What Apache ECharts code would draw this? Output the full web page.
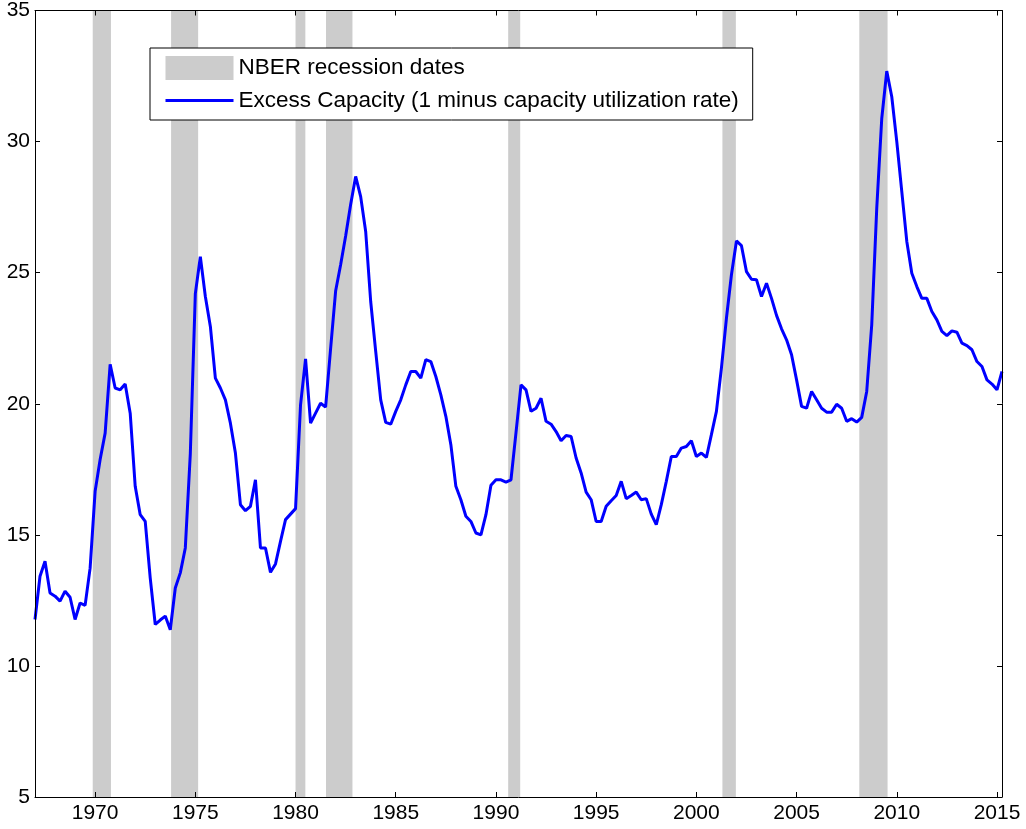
<!DOCTYPE html>
<html>
<head>
<meta charset="utf-8">
<title>Excess Capacity</title>
<script src="https://cdn.jsdelivr.net/npm/echarts@6/dist/echarts.min.js"></script>
<style>
  html, body { margin: 0; padding: 0; background: #fff; }
  #chart { width: 1026px; height: 829px; }
</style>
</head>
<body>
<div id="chart"></div>
<script>
// quarterly series, starting 1967Q1
const firstQuarter = 1967
const excessCapacity = [
  11.77, 13.42, 13.99, 12.78, 12.66, 12.47, 12.85, 12.62, 11.77, 12.4, 12.31, 13.73,
  16.66, 17.87, 18.88, 21.5, 20.6, 20.53, 20.75, 19.64, 16.85, 15.77, 15.51, 13.35,
  11.58, 11.75, 11.9, 11.38, 12.97, 13.55, 14.5, 18.1, 24.2, 25.61, 24.09, 22.95,
  20.98, 20.6, 20.15, 19.26, 18.12, 16.15, 15.92, 16.09, 17.1, 14.5, 14.5, 13.57,
  13.89, 14.75, 15.58, 15.79, 16.0, 19.96, 21.71, 19.26, 19.64, 20.02, 19.87, 22.1,
  24.3, 25.3, 26.4, 27.6, 28.67, 27.9, 26.57, 23.9, 22.0, 20.15, 19.29, 19.22,
  19.71, 20.15, 20.72, 21.23, 21.23, 20.98, 21.68, 21.61, 21.04, 20.34, 19.52, 18.44,
  16.85, 16.34, 15.71, 15.51, 15.07, 15.0, 15.77, 16.89, 17.1, 17.1, 17.01, 17.1,
  18.9, 20.72, 20.53, 19.71, 19.83, 20.21, 19.33, 19.22, 18.94, 18.59, 18.79, 18.75,
  17.93, 17.36, 16.63, 16.34, 15.51, 15.51, 16.09, 16.3, 16.5, 17.04, 16.38, 16.5,
  16.63, 16.34, 16.38, 15.79, 15.39, 16.15, 17.04, 17.99, 17.99, 18.31, 18.37, 18.59,
  17.99, 18.12, 17.95, 18.82, 19.71, 21.36, 23.26, 24.92, 26.21, 26.03, 25.04, 24.75,
  24.73, 24.09, 24.6, 24.02, 23.37, 22.86, 22.44, 21.87, 20.91, 19.9, 19.83, 20.47,
  20.15, 19.83, 19.68, 19.68, 19.98, 19.83, 19.33, 19.43, 19.3, 19.48, 20.47, 23.01,
  27.45, 30.88, 32.69, 31.71, 30.0, 28.09, 26.19, 24.98, 24.47, 24.02, 24.02, 23.52,
  23.2, 22.76, 22.6, 22.78, 22.73, 22.31, 22.22, 22.06, 21.61, 21.42, 20.91, 20.75,
  20.53, 21.23
]
// NBER recessions (fractional years)
const recessionStart = [1969.88, 1973.79, 1980.0, 1981.52, 1990.61, 2001.3, 2008.13]
const recessionEnd = [1970.79, 1975.14, 1980.49, 1982.84, 1991.21, 2001.97, 2009.54]
const yearTicks = [1970, 1975, 1980, 1985, 1990, 1995, 2000, 2005, 2010, 2015]

const font = "'Liberation Sans', Arial, sans-serif"
const recessionName = 'NBER recession dates'
const lineName = 'Excess Capacity (1 minus capacity utilization rate)'

const chart = echarts.init(document.getElementById('chart'))

const tickStyle = { show: true, inside: true, length: 5, lineStyle: { color: '#000', width: 1 } }
const lineStyle = { show: true, lineStyle: { color: '#000', width: 1 } }

chart.setOption({
  animation: false,
  backgroundColor: '#fff',
  grid: { left: 35, right: 24, top: 9, bottom: 32 },
  legend: {
    orient: 'vertical',
    left: 150,
    top: 48,
    itemWidth: 68,
    itemHeight: 24,
    itemGap: 9,
    padding: [8, 14, 8, 14],
    borderColor: '#000',
    borderWidth: 1,
    backgroundColor: '#fff',
    z: 20,
    textStyle: { fontSize: 22.5, color: '#000', fontFamily: font },
    data: [
      { name: recessionName, icon: 'rect' },
      // keep only the line in the legend icon
      { name: lineName, itemStyle: { opacity: 0 }, lineStyle: { width: 3 } },
    ],
  },
  xAxis: [{
    type: 'value',
    min: 1967,
    max: 2015.25,
    position: 'bottom',
    z: 10,
    axisLine: lineStyle,
    axisTick: Object.assign({ customValues: yearTicks }, tickStyle),
    axisLabel: {
      customValues: yearTicks,
      formatter: v => String(v),
      fontSize: 21,
      color: '#000',
      fontFamily: font,
      margin: 6,
    },
    splitLine: { show: false },
  }, {
    type: 'value',
    min: 1967,
    max: 2015.25,
    position: 'top',
    z: 10,
    axisLine: lineStyle,
    axisTick: Object.assign({ customValues: yearTicks }, tickStyle),
    axisLabel: { show: false },
    splitLine: { show: false },
  }],
  yAxis: [{
    type: 'value',
    min: 5,
    max: 35,
    interval: 5,
    position: 'left',
    z: 10,
    axisLine: lineStyle,
    axisTick: tickStyle,
    axisLabel: { fontSize: 21, color: '#000', fontFamily: font, margin: 5 },
    splitLine: { show: false },
  }, {
    type: 'value',
    min: 5,
    max: 35,
    interval: 5,
    position: 'right',
    z: 10,
    axisLine: lineStyle,
    axisTick: tickStyle,
    axisLabel: { show: false },
    splitLine: { show: false },
  }],
  series: [{
    name: recessionName,
    type: 'custom',
    silent: true,
    z: 1,
    itemStyle: { color: '#cccccc' },
    encode: { x: [0, 1] },
    data: recessionStart.map((s, i) => [s, recessionEnd[i]]),
    renderItem: (params, api) => {
      const p0 = api.coord([api.value(0), 35])
      const p1 = api.coord([api.value(1), 5])
      return {
        type: 'rect',
        shape: { x: p0[0], y: p0[1], width: p1[0] - p0[0], height: p1[1] - p0[1] },
        style: { fill: '#cccccc' },
      }
    },
  }, {
    name: lineName,
    type: 'line',
    z: 3,
    symbol: 'none',
    color: '#0000ff',
    lineStyle: { color: '#0000ff', width: 3 },
    data: excessCapacity.map((v, i) => [firstQuarter + i / 4, v]),
  }],
})
</script>
</body>
</html>
